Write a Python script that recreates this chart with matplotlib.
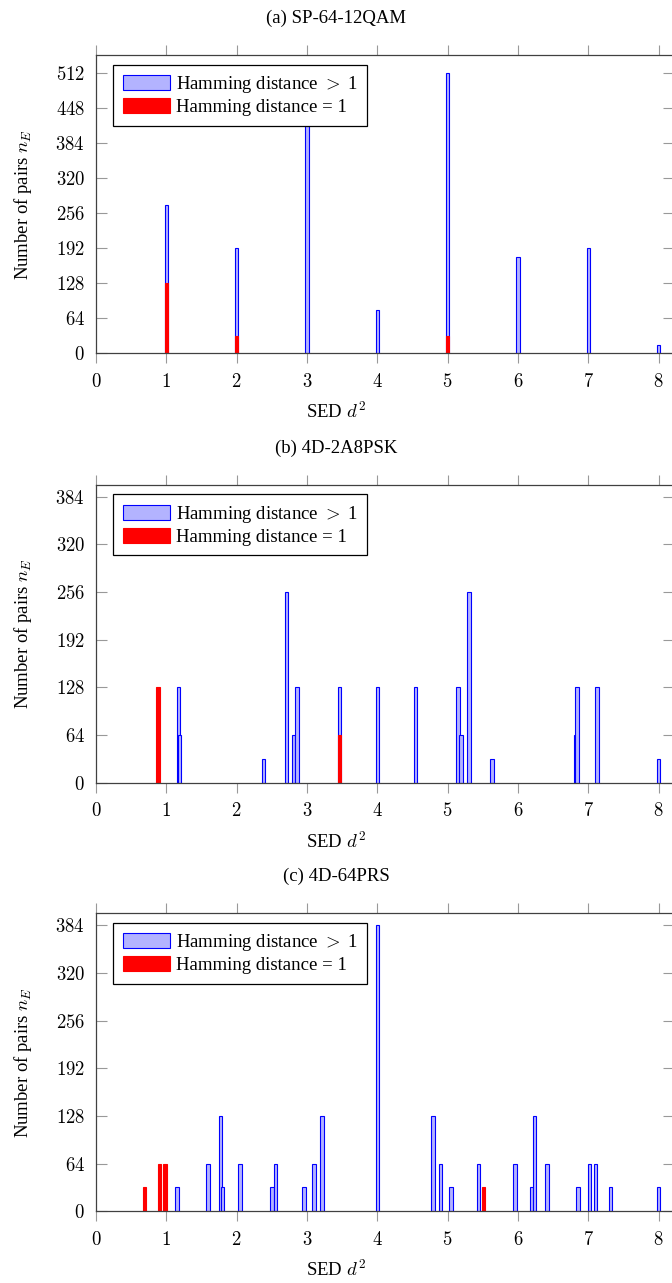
import matplotlib
matplotlib.use("Agg")
import matplotlib.pyplot as plt
from matplotlib.ticker import FuncFormatter

plt.rcParams["font.family"] = ["Liberation Serif", "DejaVu Serif"]
plt.rcParams["mathtext.fontset"] = "cm"
plt.rcParams["font.size"] = 13.5

# (a) SP-64-12QAM
a_x = [1, 2, 3, 4, 5, 6, 7, 8]
a_hd = [272, 192, 448, 80, 512, 176, 192, 16]
a_red_x = [1, 2, 5]
a_red = [128, 32, 32]

# (b) 4D-2A8PSK
b_x = [1.17, 1.19, 2.38, 2.71, 2.81, 2.86, 3.46, 4.0, 4.54, 5.15, 5.19, 5.30,
       5.63, 6.82, 6.84, 7.12, 8.0]
b_hd = [128, 64, 32, 256, 64, 128, 128, 128, 128, 128, 64, 256,
        32, 64, 128, 128, 32]
b_red_x = [0.88, 3.46]
b_red = [128, 64]

# (c) 4D-64PRS
c_x = [1.15, 1.59, 1.77, 1.80, 2.05, 2.50, 2.555, 2.96, 3.10, 3.21, 4.0, 4.79,
       4.90, 5.045, 5.44, 5.955, 6.195, 6.233, 6.41, 6.856, 7.02, 7.105, 7.315, 8.0]
c_hd = [32, 64, 128, 32, 64, 32, 64, 32, 64, 128, 384, 128,
        64, 32, 64, 64, 32, 128, 64, 32, 64, 64, 32, 32]
c_red_x = [0.687, 0.90, 0.98, 5.507]
c_red = [32, 64, 64, 32]

titles = ["(a) SP-64-12QAM", "(b) 4D-2A8PSK", "(c) 4D-64PRS"]

W, H = 672, 1283
fig = plt.figure(figsize=(W / 100, H / 100), dpi=100)

px_unit = 70.33          # pixels per unit on x
x0_px = 96
xmax = 8.22
ax_w = xmax * px_unit
ax_h = 298
tops = [55.3, 484.7, 913.3]

panels = [
    (a_x, a_hd, a_red_x, a_red, 545, range(0, 513, 64)),
    (b_x, b_hd, b_red_x, b_red, 400, range(0, 385, 64)),
    (c_x, c_hd, c_red_x, c_red, 400, range(0, 385, 64)),
]

fmt = FuncFormatter(lambda v, p: f"${int(round(v))}$")

for i, (xs, hs, rx, rh, ymax, yt) in enumerate(panels):
    top = tops[i]
    ax = fig.add_axes([x0_px / W, 1 - (top + ax_h) / H, ax_w / W, ax_h / H])
    b1 = ax.bar(xs, hs, width=0.05, color="#b3b3ff", edgecolor="blue", linewidth=0.8)
    b2 = ax.bar(rx, rh, width=0.05, color="red", edgecolor="red", linewidth=0.8)
    ax.set_xlim(0, xmax)
    ax.set_ylim(0, ymax)
    ax.set_xticks(range(0, 9))
    ax.set_yticks(list(yt))
    ax.xaxis.set_major_formatter(fmt)
    ax.yaxis.set_major_formatter(fmt)
    ax.tick_params(axis="x", direction="out", top=True, length=7.2, width=0.8,
                   color="0.6", pad=7)
    ax.tick_params(axis="y", direction="in", right=True, length=7.6, width=0.8,
                   color="0.6", pad=7.9)
    for s in ax.spines.values():
        s.set_color("0.25")
        s.set_linewidth(0.9)

    leg = ax.legend([b1, b2], ["Hamming distance $>$ 1", "Hamming distance = 1"],
                    loc="upper left", bbox_to_anchor=(17.3 / ax_w, 1 - 9.7 / ax_h),
                    borderaxespad=0, fancybox=False, framealpha=1,
                    edgecolor="black", handlelength=2.5, handleheight=0.85,
                    handletextpad=0.35, labelspacing=0.15, borderpad=0.5)
    leg.get_frame().set_linewidth(0.9)

    fig.text(336 / W, 1 - (top - 36.5) / H, titles[i], ha="center", va="center")
    fig.text(336 / W, 1 - (top + ax_h + 58.7) / H, "SED $d^2$", ha="center", va="center")
    fig.text(23 / W, 1 - (top + ax_h / 2) / H, "Number of pairs $n_E$",
             rotation=90, ha="center", va="center")

fig.savefig("out.png", dpi=100)
